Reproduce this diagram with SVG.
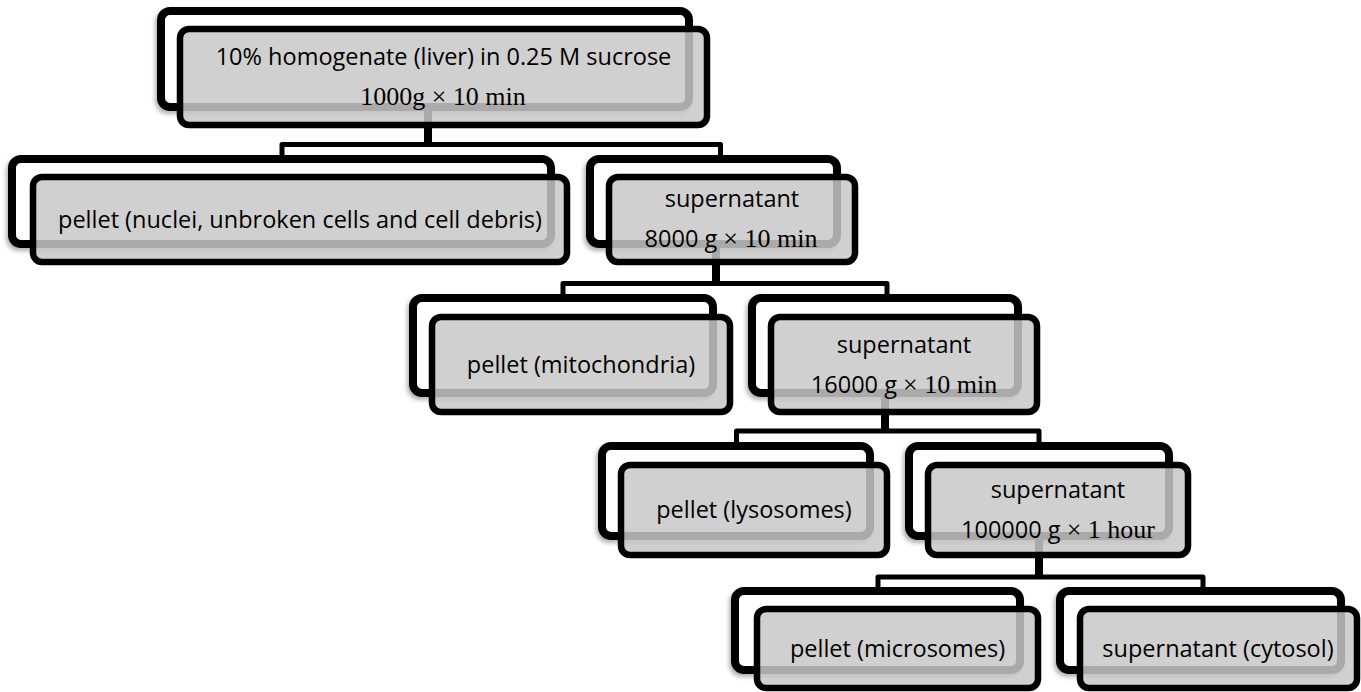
<svg xmlns="http://www.w3.org/2000/svg" width="1361" height="692" viewBox="0 0 1361 692">
<defs>
<filter id="sh" x="-10%" y="-20%" width="120%" height="150%">
<feDropShadow dx="-2" dy="3" stdDeviation="2" flood-color="#000" flood-opacity="0.3"/>
</filter>
<style>
.back{fill:#fff;stroke:#000;stroke-width:8;filter:url(#sh)}
.front{fill:#c8c8c8;fill-opacity:0.85;stroke:#000;stroke-width:6.5}
.t{font-family:"Open Sans","Liberation Sans",sans-serif;font-size:23.5px;fill:#000;text-anchor:middle}
.s{font-family:"Liberation Serif","Times New Roman",serif;font-size:26px}
.c{fill:none;stroke:#000;stroke-width:5;stroke-linejoin:round}
.v{fill:none;stroke:#000;stroke-width:8}
</style>
</defs>
<rect width="1361" height="692" fill="#fff"/>
<g id="connectors">
<line class="v" x1="428" y1="107" x2="428" y2="145"/>
<path class="c" d="M282 160 V144.5 H720.5 V160"/>
<line class="v" x1="716" y1="244" x2="716" y2="284"/>
<path class="c" d="M563 299 V283.5 H887 V299"/>
<line class="v" x1="885" y1="393" x2="885" y2="431"/>
<path class="c" d="M736.5 447 V431 H1039 V447"/>
<line class="v" x1="1039" y1="536" x2="1039" y2="577"/>
<path class="c" d="M878 592 V577 H1203 V592"/>
</g>
<g id="root">
<rect class="back" x="161" y="11" width="528" height="96" rx="9"/>
<rect class="front" x="180" y="29" width="527" height="96" rx="9"/>
<text class="t" x="443.5" y="65">10% homogenate (liver) in 0.25 M sucrose</text>
<text class="t s" x="443" y="105">1000g × 10 min</text>
</g>
<g id="pellet1">
<rect class="back" x="12" y="159" width="539" height="85" rx="9"/>
<rect class="front" x="33" y="177" width="534" height="85" rx="9"/>
<text class="t" x="300" y="228">pellet (nuclei, unbroken cells and cell debris)</text>
</g>
<g id="super1">
<rect class="back" x="590" y="159" width="247" height="85" rx="9"/>
<rect class="front" x="609" y="177" width="246" height="85" rx="9"/>
<text class="t" x="732" y="207">supernatant</text>
<text class="t" x="731" y="247">8000 g <tspan class="s">× 10 min</tspan></text>
</g>
<g id="pellet2">
<rect class="back" x="413" y="298" width="300" height="95" rx="9"/>
<rect class="front" x="432" y="317" width="298" height="95" rx="9"/>
<text class="t" x="581" y="373">pellet (mitochondria)</text>
</g>
<g id="super2">
<rect class="back" x="752" y="298" width="266" height="95" rx="9"/>
<rect class="front" x="771" y="317" width="266" height="95" rx="9"/>
<text class="t" x="904" y="353">supernatant</text>
<text class="t" x="904" y="393">16000 g <tspan class="s">× 10 min</tspan></text>
</g>
<g id="pellet3">
<rect class="back" x="602" y="446" width="268" height="90" rx="9"/>
<rect class="front" x="621" y="465" width="266" height="90" rx="9"/>
<text class="t" x="754" y="518">pellet (lysosomes)</text>
</g>
<g id="super3">
<rect class="back" x="909" y="446" width="260" height="90" rx="9"/>
<rect class="front" x="928" y="465" width="260" height="90" rx="9"/>
<text class="t" x="1058" y="498">supernatant</text>
<text class="t" x="1058" y="538">100000 g <tspan class="s">× 1 hour</tspan></text>
</g>
<g id="pellet4">
<rect class="back" x="735" y="591" width="285" height="79" rx="9"/>
<rect class="front" x="757" y="609" width="281" height="79" rx="9"/>
<text class="t" x="897.5" y="657">pellet (microsomes)</text>
</g>
<g id="super4">
<rect class="back" x="1060" y="591" width="281" height="79" rx="9"/>
<rect class="front" x="1080" y="609" width="277" height="79" rx="9"/>
<text class="t" x="1218" y="657">supernatant (cytosol)</text>
</g>
</svg>
